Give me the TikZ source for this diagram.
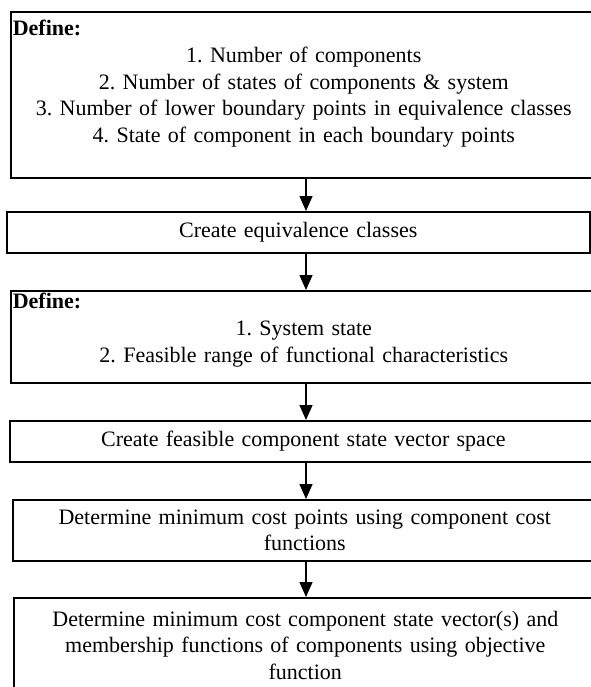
\documentclass[tikz,border=0pt]{standalone}
\usepackage{fontspec}
\setmainfont{Liberation Serif}
\frenchspacing
\usetikzlibrary{arrows.meta,positioning}

\begin{document}
\begin{tikzpicture}[x=1pt,y=-1pt,
  every node/.style={font=\fontsize{22}{26.7}\selectfont},
  stepbox/.style={draw,line width=1.6pt,anchor=north west,align=center,inner xsep=2pt,inner ysep=0pt},
  flow/.style={line width=1.3pt,-{Triangle[length=15pt,width=13pt]}}]
  \useasboundingbox (0,0) rectangle (590,687);
  % steps, top to bottom
  \node[stepbox,text width=582pt,minimum height=166pt] (def1) at (10,11)
    {\makebox[\linewidth][l]{\textbf{Define:}}\\
     1. Number of components\\
     2. Number of states of components \& system\\
     3. Number of lower boundary points in equivalence classes\\
     4. State of component in each boundary points\\ \mbox{}};
  \node[stepbox,text width=579pt,minimum height=41pt] (cls) at (6,211) {Create equivalence classes};
  \node[stepbox,text width=582pt,minimum height=92pt] (def2) at (10,290)
    {\makebox[\linewidth][l]{\textbf{Define:}}\\
     1. System state\\
     2. Feasible range of functional characteristics\\[-9pt] \mbox{}};
  \node[stepbox,text width=583pt,minimum height=41pt] (space) at (9,420) {Create feasible component state vector space};
  \node[stepbox,text width=580pt,minimum height=61pt] (pts) at (12,499)
    {Determine minimum cost points using component cost\\ functions};
  \node[stepbox,text width=579pt,minimum height=95pt] (vec) at (13,597)
    {Determine minimum cost component state vector(s) and\\
     membership functions of components using objective\\ function};
  % arrows
  \coordinate (ax) at (306,0);
  \draw[flow] (def1.south -| ax) -- (cls.north -| ax);
  \draw[flow] (cls.south -| ax) -- (def2.north -| ax);
  \draw[flow] (def2.south -| ax) -- (space.north -| ax);
  \draw[flow] (space.south -| ax) -- (pts.north -| ax);
  \draw[flow] (pts.south -| ax) -- (vec.north -| ax);
\end{tikzpicture}
\end{document}
